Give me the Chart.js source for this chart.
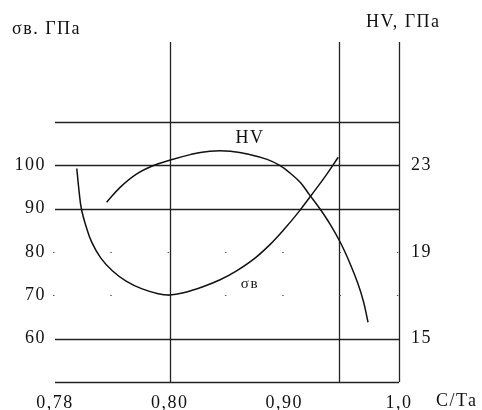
<!DOCTYPE html>
<html>
<head>
<meta charset="utf-8">
<script src="https://cdn.jsdelivr.net/npm/chart.js@4/dist/chart.umd.min.js"></script>
<style>
  html, body { margin: 0; padding: 0; background: #fff; }
  #wrap { width: 482px; height: 410px; }
</style>
</head>
<body>
<div id="wrap"><canvas id="chart" width="482" height="410"></canvas></div>
<script>
// x positions are in "label steps": 0 = 0,78  1 = 0,80  2 = 0,90  3 = 1,0
const xTickLabels = ['0,78', '0,80', '0,90', '1,0'];
const leftTicks = [60, 70, 80, 90, 100];
const rightTicks = [15, 19, 23];

// grid levels (left axis units) and vertical lines (x steps)
const solidLevels = [50, 60, 90, 100, 110];
const dottedLevels = [70, 80];
const verticalLines = [1, 2.48, 3];

// σв, GPa (left axis)
const sigmaX = [0.19, 0.21, 0.23, 0.27, 0.32, 0.40, 0.50, 0.62, 0.76, 0.90, 1.00, 1.12, 1.29, 1.44, 1.58, 1.73, 1.87, 2.00, 2.12, 2.24, 2.36, 2.47];
const sigmaY = [99.3, 94.0, 90.0, 86.0, 82.3, 78.6, 75.7, 73.3, 71.5, 70.4, 70.1, 70.6, 72.0, 73.6, 75.6, 78.3, 81.6, 85.3, 89.1, 93.3, 97.6, 101.9];

// HV, GPa (right axis)
const hvX = [0.45, 0.57, 0.71, 0.86, 1.00, 1.18, 1.35, 1.53, 1.70, 1.85, 1.96, 2.05, 2.14, 2.22, 2.31, 2.40, 2.49, 2.57, 2.64, 2.69, 2.73];
const hvY = [21.3, 22.0, 22.6, 23.0, 23.24, 23.5, 23.66, 23.66, 23.5, 23.28, 23.0, 22.65, 22.21, 21.64, 21.0, 20.28, 19.43, 18.51, 17.57, 16.72, 15.76];

const serif = 'Liberation Serif';
const ink = '#111';

const sigmaData = sigmaX.map((x, i) => ({ x: x, y: sigmaY[i] }));
const hvData = hvX.map((x, i) => ({ x: x, y: hvY[i] }));

// lines of the frame, drawn under the curves
const gridLines = {
  id: 'gridLines',
  beforeDraw(chart) {
    chart.ctx.letterSpacing = '1.5px';
  },
  beforeDatasetsDraw(chart) {
    const ctx = chart.ctx;
    const area = chart.chartArea;
    const xs = chart.scales.x, ys = chart.scales.y;
    ctx.save();
    ctx.strokeStyle = '#222';
    ctx.lineWidth = 1.3;
    solidLevels.forEach(v => {
      const py = Math.round(ys.getPixelForValue(v)) + 0.5;
      ctx.beginPath();
      ctx.moveTo(area.left, py);
      ctx.lineTo(area.right, py);
      ctx.stroke();
    });
    verticalLines.forEach(v => {
      const px = Math.round(xs.getPixelForValue(v)) + 0.5;
      ctx.beginPath();
      ctx.moveTo(px, area.top);
      ctx.lineTo(px, area.bottom);
      ctx.stroke();
    });
    ctx.setLineDash([1.5, 55.8]);
    ctx.lineWidth = 1;
    ctx.strokeStyle = '#555';
    dottedLevels.forEach(v => {
      const py = Math.round(ys.getPixelForValue(v)) + 0.5;
      ctx.beginPath();
      ctx.moveTo(area.left - 2, py);
      ctx.lineTo(area.right, py);
      ctx.stroke();
    });
    ctx.restore();
  }
};

// axis captions and curve names
const captions = {
  id: 'captions',
  afterDraw(chart) {
    const ctx = chart.ctx;
    const xs = chart.scales.x, ys = chart.scales.y;
    ctx.save();
    ctx.fillStyle = ink;
    ctx.textBaseline = 'middle';
    ctx.font = '18px "' + serif + '"';
    ctx.textAlign = 'left';
    ctx.fillText('σв. ГПа', 12, 29);
    ctx.fillText('HV, ГПа', 366, 22);
    ctx.fillText('С/Та', 436, 401);
    ctx.textAlign = 'center';
    ctx.fillText('HV', xs.getPixelForValue(1.70), ys.getPixelForValue(106.2));
    ctx.font = '15px "' + serif + '"';
    ctx.fillText('σв', xs.getPixelForValue(1.70), ys.getPixelForValue(72.6));
    ctx.restore();
  }
};

const tickFont = { family: serif, size: 18 };

new Chart(document.getElementById('chart'), {
  type: 'line',
  data: {
    datasets: [
      {
        label: 'σв',
        data: sigmaData,
        yAxisID: 'y',
        borderColor: '#111',
        borderWidth: 1.5,
        pointRadius: 0,
        fill: false,
        tension: 0.4
      },
      {
        label: 'HV',
        data: hvData,
        yAxisID: 'y2',
        borderColor: '#111',
        borderWidth: 1.5,
        pointRadius: 0,
        fill: false,
        tension: 0.4
      }
    ]
  },
  options: {
    responsive: false,
    devicePixelRatio: 1,
    animation: false,
    layout: { padding: { top: 42, left: 0, right: 0, bottom: 0 } },
    plugins: { legend: { display: false }, tooltip: { enabled: false } },
    scales: {
      x: {
        type: 'linear',
        min: 0,
        max: 3,
        grid: { display: false, drawTicks: false },
        border: { display: false },
        afterBuildTicks: s => { s.ticks = xTickLabels.map((_, i) => ({ value: i })); },
        afterFit: s => { s.height = 28; },
        ticks: {
          font: tickFont,
          color: ink,
          padding: 10,
          maxRotation: 0,
          callback: v => xTickLabels[v]
        }
      },
      y: {
        position: 'left',
        min: 50,
        max: 128.5,
        grid: { display: false, drawTicks: false },
        border: { display: false },
        afterBuildTicks: s => { s.ticks = leftTicks.map(v => ({ value: v })); },
        afterFit: s => { s.width = 55; },
        ticks: { font: tickFont, color: ink, padding: 9 }
      },
      y2: {
        position: 'right',
        min: 13,
        max: 28.7,
        grid: { display: false, drawTicks: false },
        border: { display: false },
        afterBuildTicks: s => { s.ticks = rightTicks.map(v => ({ value: v })); },
        afterFit: s => { s.width = 83; },
        ticks: { font: tickFont, color: ink, padding: 12 }
      }
    }
  },
  plugins: [gridLines, captions]
});
</script>
</body>
</html>
